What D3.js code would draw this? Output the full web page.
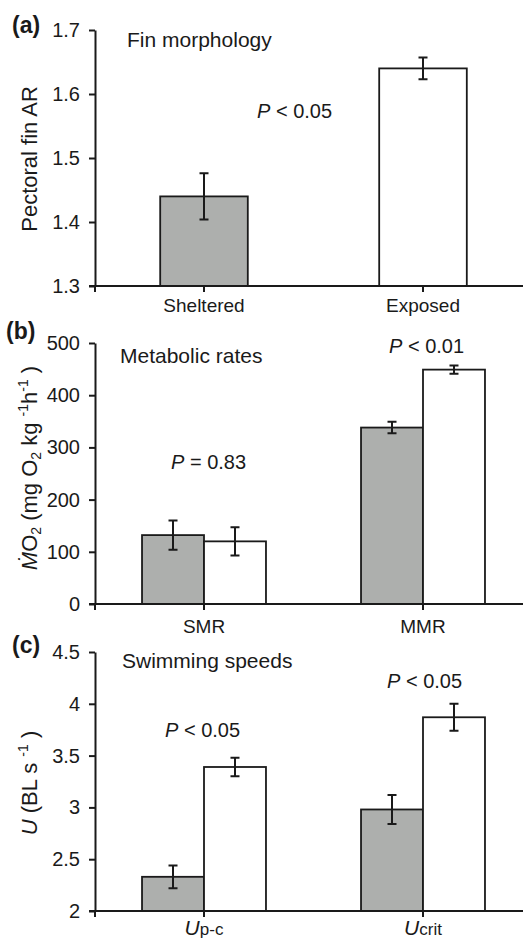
<!DOCTYPE html>
<html>
<head>
<meta charset="utf-8">
<script src="https://cdn.jsdelivr.net/npm/d3@7"></script>
<style>
  body { margin: 0; background: #fff; }
  svg text { font-family: "Liberation Sans", Arial, Helvetica, sans-serif; fill: #1a1a1a; }
</style>
</head>
<body>
<div id="chart"></div>
<script>
// panel (a) fin morphology
var finCats = ["Sheltered", "Exposed"];
var finMean = [1.44, 1.64];
var finErr = [0.036, 0.017];
var finTicks = [1.3, 1.4, 1.5, 1.6, 1.7];

// panel (b) metabolic rates
var metCats = ["SMR", "MMR"];
var metSheltered = [132, 338];
var metShelteredErr = [28, 11];
var metExposed = [120, 449];
var metExposedErr = [27, 8];
var metTicks = [0, 100, 200, 300, 400, 500];

// panel (c) swimming speeds
var swimCats = ["p-c", "crit"];
var swimSheltered = [2.33, 2.98];
var swimShelteredErr = [0.11, 0.14];
var swimExposed = [3.39, 3.87];
var swimExposedErr = [0.09, 0.13];
var swimTicks = [2, 2.5, 3, 3.5, 4, 4.5];

var groups = ["Sheltered", "Exposed"];
var fills = {Sheltered: "#adafad", Exposed: "#ffffff"};

var W = 525, H = 940;
var axisX = 95, axisRight = 523;
var svg = d3.select("#chart").append("svg").attr("width", W).attr("height", H);

// shared x band: centres at ~204 and ~423
var x = d3.scaleBand().domain([0, 1]).range([94.5, 532.5]).padding(0);

function yAxis(g, y, ticks, fmt) {
  g.attr("transform", "translate(" + axisX + ",0)")
    .call(d3.axisLeft(y).tickValues(ticks).tickFormat(fmt).tickSize(6).tickSizeOuter(0).tickPadding(9));
  g.select(".domain").attr("stroke", "#1a1a1a").attr("stroke-width", 2);
  g.selectAll(".tick line").attr("stroke", "#1a1a1a").attr("stroke-width", 2);
  g.selectAll(".tick text").attr("font-size", 20).attr("font-family", "Liberation Sans, Arial, sans-serif").attr("fill", "#1a1a1a");
}

function xAxis(y0) {
  svg.append("line").attr("x1", axisX - 6).attr("x2", axisRight).attr("y1", y0).attr("y2", y0)
    .attr("stroke", "#1a1a1a").attr("stroke-width", 2);
  svg.selectAll(null).data([axisX, x(0) + x.bandwidth() / 2, x(1) + x.bandwidth() / 2]).enter().append("line")
    .attr("x1", function(d) { return d; }).attr("x2", function(d) { return d; })
    .attr("y1", y0).attr("y2", y0 + 6).attr("stroke", "#1a1a1a").attr("stroke-width", 2);
}

function errBars(data, y) {
  var g = svg.append("g").attr("stroke", "#1a1a1a").attr("stroke-width", 2);
  g.selectAll(null).data(data).enter().append("line")
    .attr("x1", function(d) { return d.cx; }).attr("x2", function(d) { return d.cx; })
    .attr("y1", function(d) { return y(d.v + d.e); }).attr("y2", function(d) { return y(d.v - d.e); });
  g.selectAll(null).data(data).enter().append("path")
    .attr("d", function(d) {
      return "M" + (d.cx - 4.5) + "," + y(d.v + d.e) + "H" + (d.cx + 4.5) +
             "M" + (d.cx - 4.5) + "," + y(d.v - d.e) + "H" + (d.cx + 4.5);
    });
}

function bars(data, y, y0) {
  svg.selectAll(null).data(data).enter().append("rect")
    .attr("x", function(d) { return d.x; }).attr("width", function(d) { return d.w; })
    .attr("y", function(d) { return y(d.v); }).attr("height", function(d) { return y0 - y(d.v); })
    .attr("fill", function(d) { return fills[d.g]; })
    .attr("stroke", "#1a1a1a").attr("stroke-width", 1.8);
}

function panelLabel(t, xp, yb) {
  svg.append("text").text(t).attr("x", xp).attr("y", yb).attr("font-size", 23).attr("font-weight", "bold");
}

function pText(tx, cmp, xp, yb) {
  var t = svg.append("text").attr("x", xp).attr("y", yb).attr("font-size", 20);
  t.append("tspan").attr("font-style", "italic").text("P");
  t.append("tspan").text(cmp);
}

// ---------- (a)
var yA = d3.scaleLinear().domain([1.3, 1.7]).range([286, 30]);
var finW = x.bandwidth() * 0.4;
var finData = finCats.map(function(c, i) {
  var cx = x(i) + x.bandwidth() / 2;
  return {g: c, v: finMean[i], e: finErr[i], x: cx - finW / 2, w: finW, cx: cx};
});
bars(finData, yA, yA(1.3));
errBars(finData, yA);
yAxis(svg.append("g"), yA, finTicks, d3.format(".1f"));
xAxis(yA(1.3));
svg.selectAll(null).data(finCats).enter().append("text").text(function(d) { return d; })
  .attr("x", function(d, i) { return x(i) + x.bandwidth() / 2; }).attr("y", 312)
  .attr("text-anchor", "middle").attr("font-size", 19);
panelLabel("(a)", 12, 33);
svg.append("text").text("Fin morphology").attr("x", 127).attr("y", 47).attr("font-size", 21);
pText("P", " < 0.05", 257, 118);
svg.append("text").text("Pectoral fin AR").attr("transform", "translate(37,159) rotate(-90)")
  .attr("text-anchor", "middle").attr("font-size", 22);

// grouped helper
function grouped(vals1, err1, vals2, err2) {
  var out = [];
  var sub = d3.scaleBand().domain(groups)
    .range([x.bandwidth() * 0.217, x.bandwidth() * 0.783]).padding(0);
  [0, 1].forEach(function(i) {
    groups.forEach(function(g) {
      var v = g === "Sheltered" ? vals1[i] : vals2[i];
      var e = g === "Sheltered" ? err1[i] : err2[i];
      var bx = x(i) + sub(g);
      out.push({g: g, v: v, e: e, x: bx, w: sub.bandwidth(), cx: bx + sub.bandwidth() / 2});
    });
  });
  return out;
}

// ---------- (b)
var yB = d3.scaleLinear().domain([0, 500]).range([604, 343]);
var metData = grouped(metSheltered, metShelteredErr, metExposed, metExposedErr);
bars(metData, yB, yB(0));
errBars(metData, yB);
yAxis(svg.append("g"), yB, metTicks, d3.format("d"));
xAxis(yB(0));
svg.selectAll(null).data(metCats).enter().append("text").text(function(d) { return d; })
  .attr("x", function(d, i) { return x(i) + x.bandwidth() / 2; }).attr("y", 633)
  .attr("text-anchor", "middle").attr("font-size", 19);
panelLabel("(b)", 6, 339);
svg.append("text").text("Metabolic rates").attr("x", 120).attr("y", 363).attr("font-size", 21);
pText("P", " < 0.01", 389, 353);
pText("P", " = 0.83", 171, 469);
var lb = svg.append("text").attr("transform", "translate(37,468) rotate(-90)")
  .attr("text-anchor", "middle").attr("font-size", 22);
lb.append("tspan").attr("font-style", "italic").text("\u1E40");
lb.append("tspan").text("O");
lb.append("tspan").attr("font-size", 14).attr("dy", 4).text("2");
lb.append("tspan").attr("dy", -4).text(" (mg O");
lb.append("tspan").attr("font-size", 14).attr("dy", 4).text("2");
lb.append("tspan").attr("dy", -4).text(" kg ");
lb.append("tspan").attr("font-size", 14).attr("dy", -9).text("-1");
lb.append("tspan").attr("dy", 9).text("h");
lb.append("tspan").attr("font-size", 14).attr("dy", -9).text("-1");
lb.append("tspan").attr("dy", 9).text(" )");

// ---------- (c)
var yC = d3.scaleLinear().domain([2, 4.5]).range([911, 652]);
var swimData = grouped(swimSheltered, swimShelteredErr, swimExposed, swimExposedErr);
bars(swimData, yC, yC(2));
errBars(swimData, yC);
yAxis(svg.append("g"), yC, swimTicks, function(d) { return String(d); });
xAxis(yC(2));
swimCats.forEach(function(c, i) {
  var t = svg.append("text").attr("x", x(i) + x.bandwidth() / 2).attr("y", 935)
    .attr("text-anchor", "middle").attr("font-size", 21);
  t.append("tspan").attr("font-style", "italic").text("U");
  t.append("tspan").attr("font-size", 17).text(c);
});
panelLabel("(c)", 12, 653);
svg.append("text").text("Swimming speeds").attr("x", 122).attr("y", 668).attr("font-size", 21);
pText("P", " < 0.05", 387, 688);
pText("P", " < 0.05", 165, 737);
var lc = svg.append("text").attr("transform", "translate(37,783) rotate(-90)")
  .attr("text-anchor", "middle").attr("font-size", 22);
lc.append("tspan").attr("font-style", "italic").text("U");
lc.append("tspan").text(" (BL s ");
lc.append("tspan").attr("font-size", 14).attr("dy", -9).text("-1");
lc.append("tspan").attr("dy", 9).text(" )");
</script>
</body>
</html>
